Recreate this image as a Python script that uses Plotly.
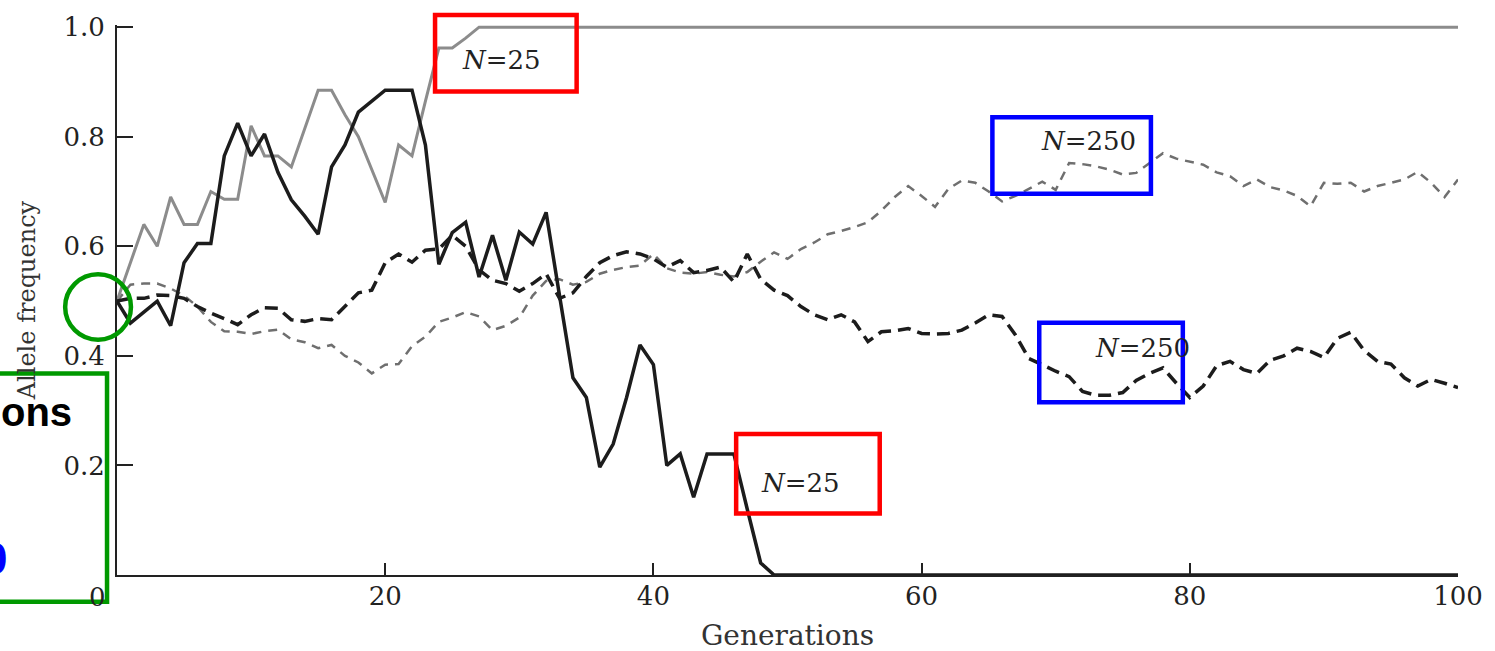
import plotly.graph_objects as go

# ---------------- data ----------------
generations = list(range(0, 101))

n25_fixed = [
    0.50, 0.57, 0.64, 0.60, 0.69, 0.64, 0.64, 0.70, 0.686, 0.686,
    0.82, 0.765, 0.765, 0.745, 0.815, 0.885, 0.885, 0.84, 0.80, 0.74,
    0.68, 0.785, 0.765, 0.865, 0.962, 0.962, 0.98, 1.0, 1.0, 1.0,
    1.0, 1.0, 1.0, 1.0, 1.0, 1.0, 1.0, 1.0, 1.0, 1.0,
    1.0, 1.0, 1.0, 1.0, 1.0, 1.0, 1.0, 1.0, 1.0, 1.0,
    1.0, 1.0, 1.0, 1.0, 1.0, 1.0, 1.0, 1.0, 1.0, 1.0,
    1.0, 1.0, 1.0, 1.0, 1.0, 1.0, 1.0, 1.0, 1.0, 1.0,
    1.0, 1.0, 1.0, 1.0, 1.0, 1.0, 1.0, 1.0, 1.0, 1.0,
    1.0, 1.0, 1.0, 1.0, 1.0, 1.0, 1.0, 1.0, 1.0, 1.0,
    1.0, 1.0, 1.0, 1.0, 1.0, 1.0, 1.0, 1.0, 1.0, 1.0,
    1.0,
]

n25_lost = [
    0.50, 0.46, 0.48, 0.50, 0.455, 0.57, 0.605, 0.605, 0.765, 0.825,
    0.765, 0.805, 0.735, 0.685, 0.655, 0.622, 0.745, 0.785, 0.845, 0.865,
    0.885, 0.885, 0.885, 0.785, 0.567, 0.625, 0.644, 0.544, 0.62, 0.538,
    0.626, 0.604, 0.662, 0.51, 0.36, 0.324, 0.197, 0.239, 0.324, 0.42,
    0.384, 0.20, 0.221, 0.142, 0.221, 0.221, 0.221, 0.12, 0.022, 0.0,
    0.0, 0.0, 0.0, 0.0, 0.0, 0.0, 0.0, 0.0, 0.0, 0.0,
    0.0, 0.0, 0.0, 0.0, 0.0, 0.0, 0.0, 0.0, 0.0, 0.0,
    0.0, 0.0, 0.0, 0.0, 0.0, 0.0, 0.0, 0.0, 0.0, 0.0,
    0.0, 0.0, 0.0, 0.0, 0.0, 0.0, 0.0, 0.0, 0.0, 0.0,
    0.0, 0.0, 0.0, 0.0, 0.0, 0.0, 0.0, 0.0, 0.0, 0.0,
    0.0,
]

n250_upper = [
    0.50, 0.53, 0.532, 0.532, 0.523, 0.51, 0.49, 0.462, 0.445, 0.444,
    0.44, 0.445, 0.448, 0.43, 0.425, 0.414, 0.42, 0.40, 0.388, 0.368,
    0.384, 0.385, 0.418, 0.435, 0.462, 0.47, 0.48, 0.472, 0.447, 0.455,
    0.47, 0.51, 0.537, 0.54, 0.53, 0.535, 0.55, 0.557, 0.562, 0.565,
    0.586, 0.56, 0.552, 0.55, 0.553, 0.548, 0.545, 0.553, 0.572, 0.589,
    0.577, 0.595, 0.607, 0.622, 0.628, 0.635, 0.644, 0.665, 0.69, 0.71,
    0.692, 0.672, 0.705, 0.72, 0.716, 0.70, 0.682, 0.692, 0.705, 0.718,
    0.703, 0.752, 0.75, 0.746, 0.74, 0.731, 0.734, 0.752, 0.77, 0.76,
    0.755, 0.749, 0.735, 0.728, 0.71, 0.722, 0.708, 0.702, 0.692, 0.673,
    0.716, 0.714, 0.716, 0.70, 0.71, 0.716, 0.722, 0.736, 0.716, 0.69,
    0.722,
]

n250_lower = [
    0.50, 0.505, 0.505, 0.511, 0.51, 0.505, 0.49, 0.478, 0.468, 0.457,
    0.475, 0.488, 0.487, 0.466, 0.463, 0.468, 0.466, 0.49, 0.515, 0.52,
    0.57, 0.586, 0.571, 0.593, 0.595, 0.62, 0.60, 0.557, 0.538, 0.532,
    0.518, 0.532, 0.55, 0.505, 0.515, 0.545, 0.57, 0.583, 0.59, 0.586,
    0.577, 0.562, 0.574, 0.552, 0.556, 0.562, 0.535, 0.586, 0.54, 0.52,
    0.51, 0.49, 0.475, 0.466, 0.475, 0.462, 0.426, 0.444, 0.446, 0.45,
    0.441, 0.44, 0.441, 0.447, 0.46, 0.475, 0.472, 0.438, 0.395, 0.384,
    0.372, 0.362, 0.335, 0.328, 0.328, 0.333, 0.355, 0.368, 0.378, 0.35,
    0.324, 0.345, 0.382, 0.39, 0.375, 0.368, 0.392, 0.40, 0.414, 0.408,
    0.397, 0.432, 0.443, 0.41, 0.39, 0.385, 0.36, 0.345, 0.357, 0.35,
    0.342,
]

x_ticks = [20, 40, 60, 80, 100]
y_ticks = [0.2, 0.4, 0.6, 0.8, 1.0]
y_tick_text = ["0.2", "0.4", "0.6", "0.8", "1.0"]

# ---------------- layout geometry ----------------
W, H = 1495, 651
ML, MR, MT, MB = 117, 33, 21, 76
PW, PH = W - ML - MR, H - MT - MB


def px(x):
    return (x - ML) / PW


def py(y):
    return (H - MB - y) / PH


SERIF = "DejaVu Serif"
INK = "#222222"

fig = go.Figure()

fig.add_trace(go.Scatter(x=generations, y=n250_upper, mode="lines",
                         line=dict(color="#6f6f6f", width=2.5, dash="9px,7px"),
                         hoverinfo="skip", showlegend=False))
fig.add_trace(go.Scatter(x=generations, y=n25_fixed, mode="lines",
                         line=dict(color="#8c8c8c", width=3),
                         hoverinfo="skip", showlegend=False))
fig.add_trace(go.Scatter(x=generations, y=n250_lower, mode="lines",
                         line=dict(color="#1c1c1c", width=3.5, dash="13px,7px"),
                         hoverinfo="skip", showlegend=False))
fig.add_trace(go.Scatter(x=generations, y=n25_lost, mode="lines",
                         line=dict(color="#1c1c1c", width=3.5),
                         hoverinfo="skip", showlegend=False))

shapes = []


def rect(x0, y0, x1, y1, color):
    shapes.append(dict(type="rect", xref="paper", yref="paper",
                       x0=px(x0), x1=px(x1), y0=py(y1), y1=py(y0),
                       line=dict(color=color, width=4.5),
                       fillcolor="rgba(0,0,0,0)", layer="above"))


rect(436, 11, 578, 88, "#ff0000")
rect(738, 433, 882, 513, "#ff0000")
rect(995, 114, 1154, 191, "#0000ff")
rect(1042, 321, 1186, 401, "#0000ff")
rect(-20, 372, 107, 602, "#009900")
shapes.append(dict(type="circle", xref="paper", yref="paper",
                   x0=px(65), x1=px(131), y0=py(338), y1=py(272),
                   line=dict(color="#009900", width=4.5),
                   fillcolor="rgba(0,0,0,0)", layer="above"))

annotations = []


def label(x, y, text, size, color=INK, family=SERIF, xanchor="center", angle=0):
    annotations.append(dict(x=px(x), y=py(y), xref="paper", yref="paper",
                            text=text, showarrow=False, xanchor=xanchor,
                            yanchor="middle", textangle=angle,
                            font=dict(family=family, size=size, color=color)))


label(503, 56, "<i>N</i>=25", 26)
label(803, 482, "<i>N</i>=25", 26)
label(1091, 138, "<i>N</i>=250", 26)
label(1146, 346, "<i>N</i>=250", 26)
label(789, 636, "Generations", 28, color="#333333")
label(27, 298, "Allele frequency", 24, color="#333333", angle=-90)
label(97, 597, "0", 26)
label(74, 411, "<b>ons</b>", 40, color="#000000",
      family="Liberation Sans, Arial, sans-serif", xanchor="right")
label(9, 558, "<b>0</b>", 44, color="#0000ff",
      family="Liberation Sans, Arial, sans-serif", xanchor="right")

fig.update_layout(
    width=W, height=H,
    margin=dict(l=ML, r=MR, t=MT, b=MB, pad=0),
    paper_bgcolor="white", plot_bgcolor="white",
    shapes=shapes, annotations=annotations,
    showlegend=False,
    xaxis=dict(range=[0, 100], tickvals=x_ticks, ticks="inside", ticklen=12,
               tickwidth=2, tickcolor=INK, showline=True, linewidth=2,
               linecolor=INK, showgrid=False, zeroline=False,
               tickfont=dict(family=SERIF, size=26, color=INK),
               ticklabelstandoff=-3),
    yaxis=dict(range=[0, 1.004], tickvals=y_ticks, ticktext=y_tick_text,
               ticks="inside", ticklen=16, tickwidth=2, tickcolor=INK,
               showline=True, linewidth=2, linecolor=INK, showgrid=False,
               zeroline=False,
               tickfont=dict(family=SERIF, size=26, color=INK),
               ticklabelstandoff=5),
)

fig.write_html("out.html")
